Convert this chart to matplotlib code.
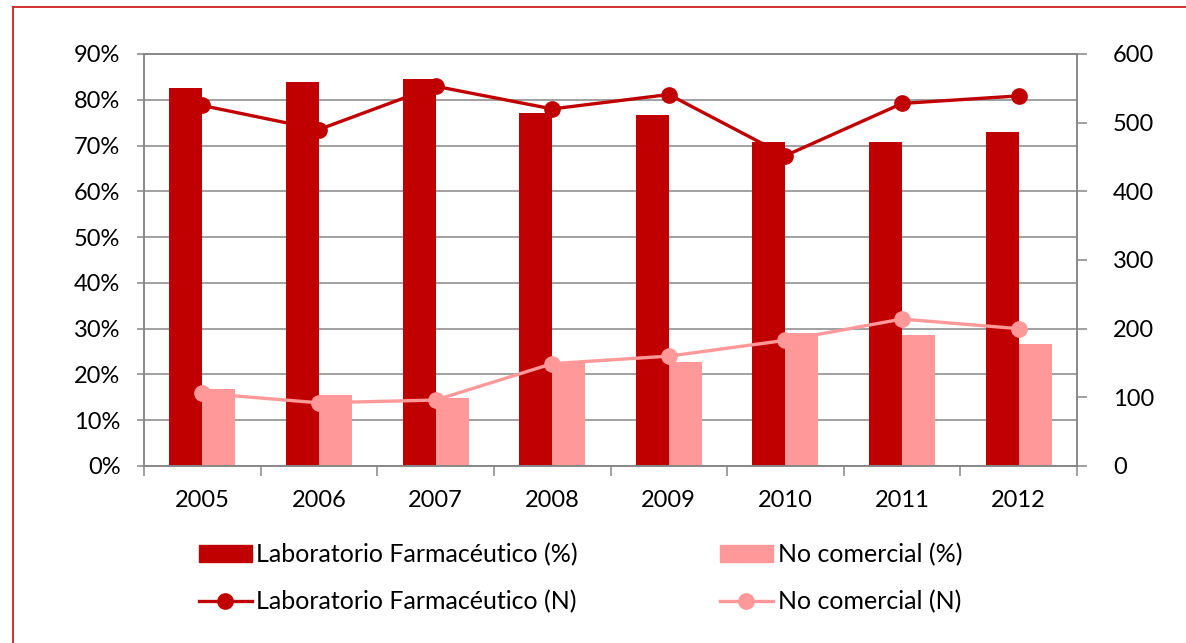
import matplotlib
matplotlib.use("Agg")
import matplotlib.pyplot as plt
from matplotlib.lines import Line2D
from matplotlib.patches import Patch
import numpy as np

plt.rcParams['font.family'] = ['Lato', 'DejaVu Sans']

years = ['2005', '2006', '2007', '2008', '2009', '2010', '2011', '2012']
lab_pct = [82.5, 83.8, 84.6, 77.1, 76.6, 70.7, 70.7, 72.9]
nocom_pct = [16.8, 15.6, 14.8, 22.6, 22.7, 29.0, 28.6, 26.6]
lab_n = [525, 490, 553, 520, 541, 452, 528, 539]
nocom_n = [106, 92, 96, 149, 160, 183, 214, 200]

labels = ['Laboratorio Farmacéutico (%)', 'No comercial (%)',
          'Laboratorio Farmacéutico (N)', 'No comercial (N)']

dark = '#C00000'
light = '#FF9999'
grid = '#868686'

W, H = 1186, 643
fig = plt.figure(figsize=(W / 100, H / 100), dpi=100)
ax = fig.add_axes([144 / W, 1 - 466 / H, (1077 - 144) / W, (466 - 54) / H])

x = np.arange(len(years))
bw = 0.283
ax.bar(x - bw / 2, np.array(lab_pct) / 100, width=bw, color=dark, zorder=2)
ax.bar(x + bw / 2, np.array(nocom_pct) / 100, width=bw, color=light, zorder=2)

ax.set_xlim(-0.5, len(years) - 0.5)
ax.set_ylim(0, 0.9)
ax.set_yticks(np.arange(0, 0.91, 0.1))
ax.set_yticklabels([f'{int(round(v * 100))}%' for v in np.arange(0, 0.91, 0.1)])
ax.yaxis.grid(True, color=grid, linewidth=1.1, zorder=0)
ax.set_axisbelow(True)
ax.set_xticks(np.arange(-0.5, len(years), 1.0))
ax.set_xticklabels([])
ax.set_xticks(x, minor=True)
ax.set_xticklabels(years, minor=True)
ax.tick_params(axis='x', which='major', direction='out', length=7, width=1.1, color=grid)
ax.tick_params(axis='x', which='minor', length=0, pad=17, labelsize=17)
ax.tick_params(axis='y', direction='out', length=5, width=1.1, color=grid, pad=12, labelsize=17)
for s in ['left', 'bottom', 'right', 'top']:
    ax.spines[s].set_color(grid)
    ax.spines[s].set_linewidth(1.1)

ax2 = ax.twinx()
ax2.set_ylim(0, 600)
ax2.set_yticks(np.arange(0, 601, 100))
ax2.tick_params(axis='y', direction='out', length=7, width=1.1, color=grid, pad=19, labelsize=17)
for s in ['left', 'bottom', 'right', 'top']:
    ax2.spines[s].set_color(grid)
    ax2.spines[s].set_linewidth(1.1)
ax2.plot(x, lab_n, color=dark, lw=2.4, marker='o', markersize=11, zorder=3)
ax2.plot(x, nocom_n, color=light, lw=2.4, marker='o', markersize=11, zorder=3)

h_bar1 = Patch(color=dark)
h_bar2 = Patch(color=light)
h_l1 = Line2D([], [], color=dark, lw=2.4, marker='o', markersize=11)
h_l2 = Line2D([], [], color=light, lw=2.4, marker='o', markersize=11)

common = dict(frameon=False, loc='upper left', borderpad=0, borderaxespad=0,
              handlelength=2.1, handleheight=0.7, handletextpad=0.2,
              labelspacing=0.95, prop={'size': 18})
leg1 = fig.legend([h_bar1, h_l1], [labels[0], labels[2]],
                  bbox_to_anchor=(199 / W, 1 - 543 / H), **common)
leg2 = fig.legend([h_bar2, h_l2], [labels[1], labels[3]],
                  bbox_to_anchor=(720 / W, 1 - 543 / H), **common)

# outer chart-area border (top and left visible)
fig.add_artist(Line2D([13 / W, 1], [1 - 7 / H, 1 - 7 / H], color='#D02020', lw=1.3,
                      transform=fig.transFigure))
fig.add_artist(Line2D([13 / W, 13 / W], [0, 1 - 7 / H], color='#D02020', lw=1.3,
                      transform=fig.transFigure))

fig.savefig('out.png', dpi=100)
